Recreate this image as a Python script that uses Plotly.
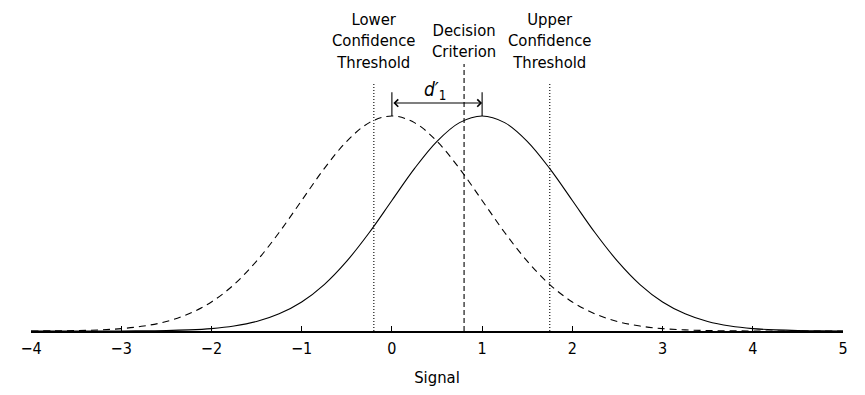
import plotly.graph_objects as go

# x grid (step 0.25 on the Signal axis)
signal_x = [-4.0, -3.75, -3.5, -3.25, -3.0, -2.75, -2.5, -2.25, -2.0, -1.75, -1.5, -1.25,
            -1.0, -0.75, -0.5, -0.25, 0.0, 0.25, 0.5, 0.75, 1.0, 1.25, 1.5, 1.75, 2.0,
            2.25, 2.5, 2.75, 3.0, 3.25, 3.5, 3.75, 4.0, 4.25, 4.5, 4.75, 5.0]

# relative heights (peak = 1) of the dashed (noise) curve centred on 0
noise_y = [0.000, 0.001, 0.002, 0.005, 0.011, 0.023, 0.044, 0.080, 0.135, 0.216, 0.325, 0.458,
           0.607, 0.755, 0.882, 0.969, 1.000, 0.969, 0.882, 0.755, 0.607, 0.458, 0.325, 0.216,
           0.135, 0.080, 0.044, 0.023, 0.011, 0.005, 0.002, 0.001, 0.000, 0.000, 0.000, 0.000, 0.000]

# relative heights of the solid (signal) curve centred on 1
signal_y = [0.000, 0.000, 0.000, 0.000, 0.000, 0.001, 0.002, 0.005, 0.011, 0.023, 0.044, 0.080,
            0.135, 0.216, 0.325, 0.458, 0.607, 0.755, 0.882, 0.969, 1.000, 0.969, 0.882, 0.755,
            0.607, 0.458, 0.325, 0.216, 0.135, 0.080, 0.044, 0.023, 0.011, 0.005, 0.002, 0.001, 0.000]

# criterion positions
lower_threshold = -0.2
decision_criterion = 0.8
upper_threshold = 1.75
noise_mean = 0.0
signal_mean = 1.0

tick_vals = [-4, -3, -2, -1, 0, 1, 2, 3, 4, 5]
tick_text = ["\u22124", "\u22123", "\u22122", "\u22121", "0", "1", "2", "3", "4", "5"]

FONT = "DejaVu Sans Condensed, Liberation Sans Narrow, Arial Narrow, sans-serif"

fig = go.Figure()

fig.add_trace(go.Scatter(x=signal_x, y=noise_y, mode="lines", line_shape="spline",
                         line=dict(color="black", width=1.1, dash="7px,5px")))
fig.add_trace(go.Scatter(x=signal_x, y=signal_y, mode="lines", line_shape="spline",
                         line=dict(color="black", width=1.1)))

# vertical criterion lines
line_top_thr = 1.149
line_top_crit = 1.242
for xv, top, dash in [(lower_threshold, line_top_thr, "1px,2px"),
                      (decision_criterion, line_top_crit, "5px,3px"),
                      (upper_threshold, line_top_thr, "1px,2px")]:
    fig.add_trace(go.Scatter(x=[xv, xv], y=[0, top], mode="lines",
                             line=dict(color="black", width=1.1, dash=dash)))

# d' bracket ticks
for xv in [noise_mean, signal_mean]:
    fig.add_trace(go.Scatter(x=[xv, xv], y=[1.0, 1.11], mode="lines",
                             line=dict(color="black", width=1.1)))

arrow_y = 1.06
fig.add_annotation(x=signal_mean, y=arrow_y, ax=noise_mean, ay=arrow_y,
                   xref="x", yref="y", axref="x", ayref="y", text="",
                   showarrow=True, arrowhead=4, startarrowhead=4, arrowside="end+start",
                   arrowsize=1.3, startarrowsize=1.3, arrowwidth=1.1, arrowcolor="black")

fig.add_annotation(x=(noise_mean + signal_mean) / 2 - 0.02, y=1.118, xref="x", yref="y",
                   text="<i>d\u2032</i><sub>1</sub>", showarrow=False,
                   font=dict(family=FONT, size=19, color="black"), yanchor="middle")

label_y = 1.35
label_font = dict(family=FONT, size=16.5, color="black")
fig.add_annotation(x=lower_threshold, y=label_y, xref="x", yref="y",
                   text="Lower<br>Confidence<br>Threshold", showarrow=False, yanchor="middle",
                   font=label_font)
fig.add_annotation(x=decision_criterion, y=label_y, xref="x", yref="y",
                   text="Decision<br>Criterion", showarrow=False, yanchor="middle",
                   font=label_font)
fig.add_annotation(x=upper_threshold, y=label_y, xref="x", yref="y",
                   text="Upper<br>Confidence<br>Threshold", showarrow=False, yanchor="middle",
                   font=label_font)

fig.update_layout(
    width=849, height=379,
    margin=dict(l=23, r=14, t=0, b=56, autoexpand=False),
    paper_bgcolor="white", plot_bgcolor="white",
    showlegend=False, hovermode=False,
    font=dict(family=FONT, size=16, color="black"),
)
fig.update_xaxes(range=[-4, 5], tickvals=tick_vals, ticktext=tick_text,
                 ticks="inside", ticklen=5, tickwidth=1, tickcolor="black",
                 showline=True, linecolor="black", linewidth=1.5,
                 showgrid=False, zeroline=False, automargin=False,
                 ticklabelstandoff=2,
                 tickfont=dict(family=FONT, size=16, color="black"),
                 title=dict(text="Signal", standoff=14, font=dict(family=FONT, size=16.5, color="black")))
fig.update_yaxes(range=[0, 1.502], visible=False, showgrid=False, zeroline=False)

fig.write_html("out.html")
